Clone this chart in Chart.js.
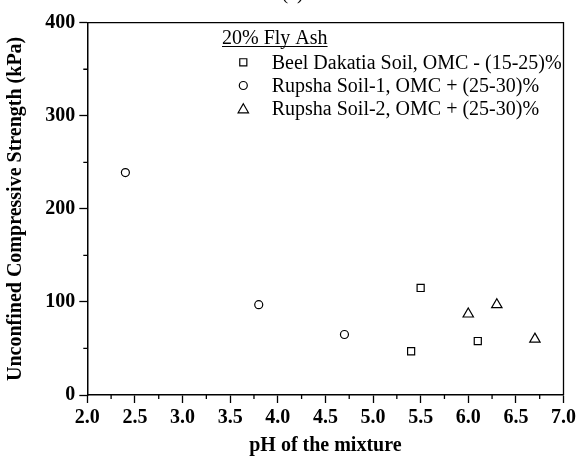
<!DOCTYPE html>
<html>
<head>
<meta charset="utf-8">
<script src="https://cdn.jsdelivr.net/npm/chart.js@4/dist/chart.umd.min.js"></script>
<style>
  html, body { margin: 0; padding: 0; background: #fff; }
  #c { display: block; }
</style>
</head>
<body>
<canvas id="c" width="579" height="460"></canvas>
<script>
// ---- data ----
const seriesNames = [
  "Beel Dakatia Soil, OMC - (15-25)%",
  "Rupsha Soil-1, OMC + (25-30)%",
  "Rupsha Soil-2, OMC + (25-30)%"
];
const beelPH = [5.4, 5.5, 6.1];
const beelUCS = [47, 115, 58];
const rupsha1PH = [2.4, 3.8, 4.7];
const rupsha1UCS = [239, 97, 65];
const rupsha2PH = [6.0, 6.3, 6.7];
const rupsha2UCS = [87, 97, 60];
const legendHeader = "20% Fly Ash";
const panelLabel = "(a)";
const xTitle = "pH of the mixture";
const yTitle = "Unconfined Compressive Strength (kPa)";
const xMinorTicks = [2.25, 2.75, 3.25, 3.75, 4.25, 4.75, 5.25, 5.75, 6.25, 6.75];
const yMinorTicks = [50, 150, 250, 350];

const FONT = "'Liberation Serif', 'Times New Roman', serif";
const pts = (xs, ys) => xs.map((x, i) => ({ x: x, y: ys[i] }));

const baseDs = {
  backgroundColor: '#ffffff',
  borderColor: '#000000',
  borderWidth: 1.2,
  showLine: false
};

const extras = {
  id: 'extras',
  afterDraw(chart) {
    const ctx = chart.ctx;
    const a = chart.chartArea;
    const xs = chart.scales.x, ys = chart.scales.y;
    ctx.save();
    ctx.strokeStyle = '#000';
    ctx.lineWidth = 1.3;
    // frame top & right
    ctx.beginPath();
    ctx.moveTo(a.left, a.top); ctx.lineTo(a.right, a.top); ctx.lineTo(a.right, a.bottom);
    ctx.stroke();
    // minor ticks
    ctx.beginPath();
    xMinorTicks.forEach(v => { const p = xs.getPixelForValue(v); ctx.moveTo(p, a.bottom); ctx.lineTo(p, a.bottom + 4); });
    yMinorTicks.forEach(v => { const p = ys.getPixelForValue(v); ctx.moveTo(a.left, p); ctx.lineTo(a.left - 4, p); });
    ctx.stroke();
    // panel label (cropped at top)
    ctx.fillStyle = '#000';
    ctx.font = '20px ' + FONT;
    ctx.textAlign = 'center';
    ctx.textBaseline = 'alphabetic';
    ctx.fillText(panelLabel, 292.5, -1);
    // legend
    ctx.textAlign = 'left';
    ctx.fillText(legendHeader, 222, 44);
    const w = ctx.measureText(legendHeader).width;
    ctx.lineWidth = 1;
    ctx.beginPath(); ctx.moveTo(222, 46.5); ctx.lineTo(222 + w, 46.5); ctx.stroke();
    ctx.textBaseline = 'middle';
    const rows = [62.3, 85.5, 108.3];
    chart.data.datasets.forEach((ds, i) => {
      ctx.lineWidth = ds.borderWidth;
      ctx.strokeStyle = ds.borderColor;
      ctx.fillStyle = ds.backgroundColor;
      Chart.helpers.drawPoint(ctx, { pointStyle: ds.pointStyle, radius: ds.pointRadius, rotation: 0, borderWidth: ds.borderWidth }, 243.3, rows[i] + (ds.pointStyle === 'triangle' ? 1.5 : 0));
      ctx.fillStyle = '#000';
      ctx.fillText(ds.label, 271.7, rows[i] + 1);
    });
    ctx.restore();
  }
};

new Chart(document.getElementById('c'), {
  type: 'scatter',
  data: {
    datasets: [
      Object.assign({ label: seriesNames[0], data: pts(beelPH, beelUCS), pointStyle: 'rect', pointRadius: 5, pointHoverRadius: 5 }, baseDs),
      Object.assign({ label: seriesNames[1], data: pts(rupsha1PH, rupsha1UCS), pointStyle: 'circle', pointRadius: 4, pointHoverRadius: 4 }, baseDs),
      Object.assign({ label: seriesNames[2], data: pts(rupsha2PH, rupsha2UCS), pointStyle: 'triangle', pointRadius: 6, pointHoverRadius: 6 }, baseDs)
    ]
  },
  options: {
    responsive: false,
    animation: false,
    devicePixelRatio: 1,
    layout: { padding: { top: 22.7, right: 14.7, left: 0, bottom: 0 } },
    plugins: { legend: { display: false }, tooltip: { enabled: false } },
    scales: {
      x: {
        type: 'linear', min: 2, max: 7,
        afterFit(s) { s.height = 65; },
        ticks: { stepSize: 0.5, padding: 3, color: '#000', maxRotation: 0, autoSkip: false,
          font: { family: FONT, size: 20, weight: 'bold' },
          callback: v => Number(v).toFixed(1) },
        grid: { drawOnChartArea: false, drawTicks: true, tickLength: 8, color: '#000', tickWidth: 1.3 },
        border: { display: true, color: '#000', width: 1.5 },
        title: { display: true, text: xTitle, color: '#000', padding: { top: 0, bottom: 2 },
          font: { family: FONT, size: 20, weight: 'bold', lineHeight: 1.2 } }
      },
      y: {
        type: 'linear', min: 0, max: 400,
        afterFit(s) { s.width = 87.3; },
        ticks: { stepSize: 100, padding: 4, color: '#000',
          font: { family: FONT, size: 20, weight: 'bold' } },
        grid: { drawOnChartArea: false, drawTicks: true, tickLength: 8, color: '#000', tickWidth: 1.3 },
        border: { display: true, color: '#000', width: 1.5 },
        title: { display: true, text: yTitle, color: '#000', padding: { top: 4, bottom: 0 },
          font: { family: FONT, size: 20, weight: 'bold', lineHeight: 1.2 } }
      }
    }
  },
  plugins: [extras]
});
</script>
</body>
</html>
